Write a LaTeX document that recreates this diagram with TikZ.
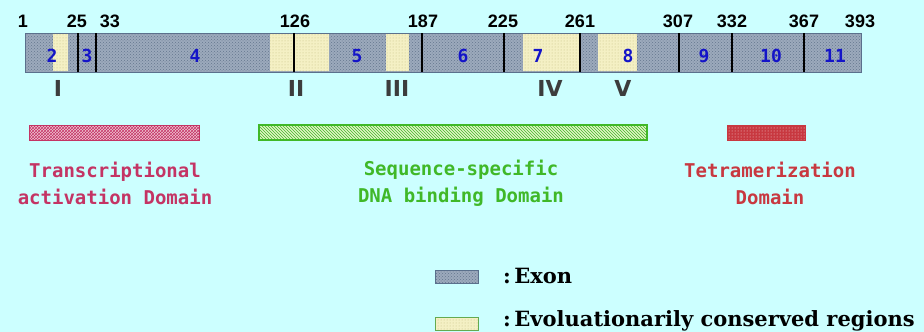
\documentclass[tikz,border=0pt]{standalone}
\usepackage{fontspec}
\usetikzlibrary{patterns}
\newfontfamily\numfont{Liberation Sans}
\newfontfamily\monofont{DejaVu Sans Mono}
\newfontfamily\romfont{DejaVu Sans}
\newfontfamily\legfont{DejaVu Serif}

\definecolor{bgcyan}{RGB}{204,255,255}
\definecolor{exonbase}{RGB}{156,170,188}
\definecolor{exondot}{RGB}{100,118,142}
\definecolor{exonedge}{RGB}{90,112,140}
\definecolor{consbase}{RGB}{244,240,196}
\definecolor{consdot}{RGB}{196,190,130}
\definecolor{exonblue}{RGB}{20,20,200}
\definecolor{romgray}{RGB}{60,60,60}
\definecolor{tadpink}{RGB}{196,52,100}
\definecolor{tadfill}{RGB}{240,196,212}
\definecolor{dbdgreen}{RGB}{64,184,40}
\definecolor{dbdfill}{RGB}{226,244,196}
\definecolor{tetred}{RGB}{200,56,64}
\definecolor{legedge}{RGB}{100,170,80}

\tikzset{
  exonarea/.style={preaction={fill=exonbase}, pattern=crosshatch dots, pattern color=exondot},
  consarea/.style={preaction={fill=consbase}, pattern=dots, pattern color=consdot},
  divider/.style={draw=black, line width=1.3pt},
  poslabel/.style={font=\numfont\bfseries\fontsize{18}{18}\selectfont, inner sep=0pt},
  exonlabel/.style={font=\monofont\bfseries\fontsize{18}{18}\selectfont, text=exonblue, inner sep=0pt},
  romlabel/.style={font=\romfont\bfseries\fontsize{22}{22}\selectfont, text=romgray, inner sep=0pt},
  domtext/.style={font=\monofont\bfseries\fontsize{19}{27}\selectfont, align=center, inner sep=0pt},
  legtext/.style={font=\legfont\bfseries\fontsize{21}{21}\selectfont, anchor=west, inner sep=0pt},
}

\begin{document}
\begin{tikzpicture}[x=1pt,y=-1pt]
  \fill[bgcyan] (0,0) rectangle (924,332);
  \useasboundingbox (0,0) rectangle (924,332);

  % exon bar with the conserved regions laid over it
  \path[exonarea] (25,33) rectangle (861,72);
  \foreach \a/\b in {53/68, 270/329, 386/409, 523/579, 598/637}
    \path[consarea] (\a,33.6) rectangle (\b,71.4);
  \draw[exonedge, line width=1pt] (25,33) rectangle (861,72);

  % exon boundaries
  \foreach \x in {78, 96, 294, 422, 504, 580, 679, 732, 804}
    \draw[divider] (\x,33) -- (\x,72);

  % codon positions
  \foreach \x/\n in {23/1, 77/25, 110/33, 295/126, 423/187, 503/225, 580/261, 678/307, 732/332, 804/367, 860/393}
    \node[poslabel] (pos\n) at (\x,21.5) {\n};

  % exon numbers
  \foreach \x/\n in {52/2, 87/3, 195/4, 357/5, 463/6, 538/7, 628/8, 704/9, 771/10, 835/11}
    \node[exonlabel] (exon\n) at (\x,56) {\n};

  % conserved region numerals
  \node[romlabel] (regI)   at (58,88)  {I};
  \node[romlabel] (regII)  at (296,88) {II};
  \node[romlabel] (regIII) at (397,88) {III};
  \node[romlabel] (regIV)  at (550,88) {IV};
  \node[romlabel] (regV)   at (623,88) {V};

  % functional domains
  \draw[tadpink, line width=1pt, preaction={fill=tadfill}, pattern=crosshatch, pattern color=tadpink]
    (29,125) rectangle (199,140);
  \draw[dbdgreen, line width=1.2pt, preaction={fill=dbdfill}, pattern=north west lines, pattern color=dbdgreen]
    (259,125) rectangle (647,140);
  \draw[tetred, line width=1pt, preaction={fill=tetred}, pattern=dots, pattern color=white!80!tetred]
    (727,125) rectangle (805,140);

  \node[domtext, text=tadpink] (tad) at (115,183.5) {Transcriptional\\activation Domain};
  \node[domtext, text=dbdgreen] (dbd) at (461,183.5) {Sequence-specific\\DNA binding Domain};
  \node[domtext, text=tetred] (tet) at (770,183.5) {Tetramerization\\Domain};

  % legend
  \draw[exonedge, line width=1pt, exonarea] (435,270) rectangle (478,283);
  \node[legtext] (legexon) at (503,276) {:\,Exon};
  \draw[legedge, line width=1pt, consarea] (435,317) rectangle (478,330);
  \node[legtext] (legcons) at (503,321) {:\,Evoluationarily conserved regions};
\end{tikzpicture}
\end{document}
